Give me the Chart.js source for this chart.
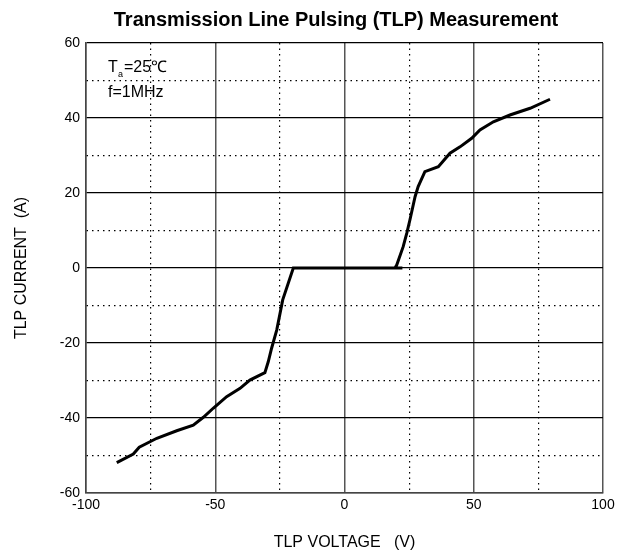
<!DOCTYPE html>
<html lang="en">
<head>
    <meta charset="UTF-8">
    <title>TLP Measurement</title>
    <script src="https://cdn.jsdelivr.net/npm/chart.js@4.4.1/dist/chart.umd.min.js"></script>
    <style>
        html, body { margin: 0; padding: 0; background: #fff; }
        #wrap { width: 623px; height: 555px; }
    </style>
</head>
<body>
    <div id="wrap"><canvas id="tlp"></canvas></div>
    <script>
        /************  DATA  ************/
        // curve, in drawing order (V, A)
        const voltage = [-88.1, -81.7, -79.4, -72.6, -64.9, -58.5, -54.6, -50.8, -45.6, -40.4, -36.6, -30.8, -29.5, -28.2, -26.2, -23.9, -19.8,
            22.4, 19.5, 20.2, 22.7, 24.1, 25.3, 27.3, 28.5, 31.1, 36.3, 40.8, 44.7, 49.2, 52.4, 57.6, 64.0, 71.8, 79.5];
        const current = [-51.9, -49.6, -47.8, -45.4, -43.4, -41.9, -39.8, -37.4, -34.3, -32.1, -29.9, -27.9, -25.0, -21.4, -16.5, -8.5, 0,
            0, 0, 0.8, 5.7, 9.3, 12.8, 19.0, 21.7, 25.7, 27.0, 30.6, 32.3, 34.6, 36.8, 39.0, 40.8, 42.6, 45.0];
        const xTicks = [-100, -50, 0, 50, 100];
        const yTicks = [-60, -40, -20, 0, 20, 40, 60];

        const points = voltage.map((v, i) => ({ x: v, y: current[i] }));
        const FONT = 'Liberation Sans, Arial, sans-serif';

        // title plus the Ta / f note
        const textPlugin = {
            id: 'textPlugin',
            afterDraw(chart) {
                const { ctx } = chart;
                ctx.save();
                ctx.fillStyle = '#000';
                ctx.textBaseline = 'middle';
                ctx.textAlign = 'center';
                ctx.font = 'bold 20px ' + FONT;
                ctx.fillText('Transmission Line Pulsing (TLP) Measurement', 336, 20);

                ctx.textAlign = 'left';
                ctx.font = '16px ' + FONT;
                ctx.fillText('T', 108, 68);
                ctx.font = '9px ' + FONT;
                ctx.fillText('a', 118, 75);
                ctx.font = '16px ' + FONT;
                ctx.fillText('=25\u2103', 124, 68);
                ctx.fillText('f=1MHz', 108, 93);
                ctx.restore();
            }
        };

        new Chart(document.getElementById('tlp'), {
            type: 'scatter',
            data: {
                datasets: [{
                    data: points,
                    showLine: true,
                    borderColor: '#000',
                    borderWidth: 3,
                    pointRadius: 0,
                    tension: 0
                }]
            },
            options: {
                responsive: true,
                maintainAspectRatio: false,
                animation: false,
                layout: { padding: { top: 43, right: 20, left: 0, bottom: 0 } },
                plugins: { legend: { display: false }, tooltip: { enabled: false } },
                scales: {
                    x: {
                        min: -100, max: 100,
                        ticks: {
                            stepSize: 25,
                            color: '#000',
                            font: { family: FONT, size: 14 },
                            padding: 4,
                            maxRotation: 0,
                            callback: v => xTicks.includes(v) ? v : ''
                        },
                        grid: {
                            drawTicks: false,
                            color: ctx => xTicks.includes(ctx.tick && ctx.tick.value) ? '#555' : '#000',
                            lineWidth: ctx => xTicks.includes(ctx.tick && ctx.tick.value) ? 1.5 : 1.2
                        },
                        border: {
                            color: '#444', width: 1.5,
                            dash: ctx => (ctx.tick && !xTicks.includes(ctx.tick.value)) ? [1.5, 4] : []
                        },
                        title: {
                            display: true,
                            text: 'TLP VOLTAGE   (V)',
                            color: '#000',
                            font: { family: FONT, size: 16 },
                            padding: { top: 0, bottom: 3 }
                        },
                        afterFit: s => { s.height = 62; }
                    },
                    y: {
                        min: -60, max: 60,
                        ticks: {
                            stepSize: 10,
                            color: '#000',
                            font: { family: FONT, size: 14 },
                            padding: 6,
                            callback: v => yTicks.includes(v) ? v : ''
                        },
                        grid: {
                            drawTicks: false,
                            color: '#000',
                            lineWidth: ctx => yTicks.includes(ctx.tick && ctx.tick.value) ? 1.3 : 1.2
                        },
                        border: {
                            color: '#444', width: 1.5,
                            dash: ctx => (ctx.tick && !yTicks.includes(ctx.tick.value)) ? [1.5, 4] : []
                        },
                        title: {
                            display: true,
                            text: 'TLP CURRENT  (A)',
                            color: '#000',
                            font: { family: FONT, size: 16 },
                            padding: { top: 12, bottom: 0 }
                        },
                        afterFit: s => { s.width = 86; }
                    }
                }
            },
            plugins: [textPlugin]
        });
    </script>
</body>
</html>
